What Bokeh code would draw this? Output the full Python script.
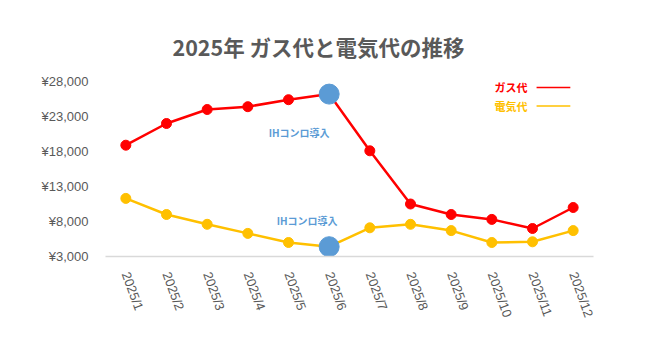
from bokeh.plotting import figure
from bokeh.models import ColumnDataSource, Range1d, FixedTicker, Label, BoxAnnotation
from bokeh.core.properties import value
from bokeh.embed import file_html
from bokeh.resources import INLINE

# ---- data ----
months = ["2025/1", "2025/2", "2025/3", "2025/4", "2025/5", "2025/6",
          "2025/7", "2025/8", "2025/9", "2025/10", "2025/11", "2025/12"]
gas = [18900, 22000, 24000, 24400, 25400, 26200, 18100, 10500, 9000, 8300, 7000, 10000]
elec = [11300, 9000, 7600, 6300, 5000, 4400, 7100, 7600, 6700, 5000, 5100, 6700]
y_ticks = [3000, 8000, 13000, 18000, 23000, 28000]
y_tick_labels = ["¥3,000", "¥8,000", "¥13,000", "¥18,000", "¥23,000", "¥28,000"]
highlight_month = "2025/6"
note_text = "IHコンロ導入"
series_names = ["ガス代", "電気代"]
title_text = "2025年 ガス代と電気代の推移"

GAS_COLOR = "#FF0000"
ELEC_COLOR = "#FFC000"
HL_COLOR = "#5B9BD5"
TEXT_GRAY = "#595959"
JP = "Noto Sans CJK JP"

src = ColumnDataSource(dict(month=months, gas=gas, elec=elec))
hi = months.index(highlight_month)
hl_src = ColumnDataSource(dict(month=[months[hi]], gas=[gas[hi]], elec=[elec[hi]]))

p = figure(width=661, height=351, x_range=months,
           y_range=Range1d(y_ticks[0], y_ticks[-1]),
           output_backend="svg", toolbar_location=None,
           min_border_left=105, min_border_right=68,
           min_border_top=81, min_border_bottom=95)

p.title.text = title_text
p.title.text_font = JP
p.title.text_font_size = "21.5px"
p.title.text_font_style = "bold"
p.title.text_color = TEXT_GRAY
p.title.align = "left"
p.title.offset = 67
p.title.standoff = 39

p.outline_line_color = None
p.xgrid.grid_line_color = None
p.ygrid.grid_line_color = None
p.x_range.range_padding = 0.0

p.yaxis.ticker = FixedTicker(ticks=y_ticks)
p.yaxis.major_label_overrides = {t: s for t, s in zip(y_ticks, y_tick_labels)}
p.yaxis.axis_line_color = None
p.yaxis.major_tick_line_color = None
p.yaxis.minor_tick_line_color = None
p.yaxis.major_label_text_font = "Liberation Sans"
p.yaxis.major_label_text_font_size = "13px"
p.yaxis.major_label_text_color = TEXT_GRAY
p.yaxis.major_label_standoff = 11

p.xaxis.axis_line_color = "#D9D9D9"
p.xaxis.axis_line_width = 1.5
p.xaxis.major_tick_line_color = None
p.xaxis.minor_tick_line_color = None
p.xaxis.major_label_orientation = -1.22
p.xaxis.major_label_text_font = "Liberation Sans"
p.xaxis.major_label_text_font_size = "13px"
p.xaxis.major_label_text_color = TEXT_GRAY
p.xaxis.major_label_standoff = 10

p.line("month", "gas", source=src, line_color=GAS_COLOR, line_width=2.5)
p.scatter("month", "gas", source=src, size=10, fill_color=GAS_COLOR, line_color=GAS_COLOR)
p.line("month", "elec", source=src, line_color=ELEC_COLOR, line_width=2.5)
p.scatter("month", "elec", source=src, size=10, fill_color=ELEC_COLOR, line_color=ELEC_COLOR)

p.scatter("month", "gas", source=hl_src, size=20, fill_color=HL_COLOR, line_color=HL_COLOR)
p.scatter("month", "elec", source=hl_src, size=20, fill_color=HL_COLOR, line_color=HL_COLOR)

p.text(x=[months[hi]], y=[gas[hi]], text=[note_text], x_offset=-30, y_offset=38,
       text_align="center", text_baseline="middle", text_color=HL_COLOR,
       text_font=value(JP), text_font_size="10px", text_font_style="bold")
p.text(x=[months[hi]], y=[elec[hi]], text=[note_text], x_offset=-22, y_offset=-26,
       text_align="center", text_baseline="middle", text_color=HL_COLOR,
       text_font=value(JP), text_font_size="10px", text_font_style="bold")

# custom legend (label left of line), placed in data coordinates
leg_colors = [GAS_COLOR, ELEC_COLOR]
leg_y = [27143, 24500]
for name, col, ly in zip(series_names, leg_colors, leg_y):
    p.add_layout(Label(x=10.38, y=ly, text=name, text_align="right", text_baseline="middle",
                       text_color=col, text_font=JP, text_font_size="11px",
                       text_font_style="bold"))
    p.add_layout(BoxAnnotation(left=10.6, right=11.43, top=ly + 90, bottom=ly - 90,
                               fill_color=col, fill_alpha=1.0, line_color=None))

open("out.html", "w").write(file_html(p, INLINE))
